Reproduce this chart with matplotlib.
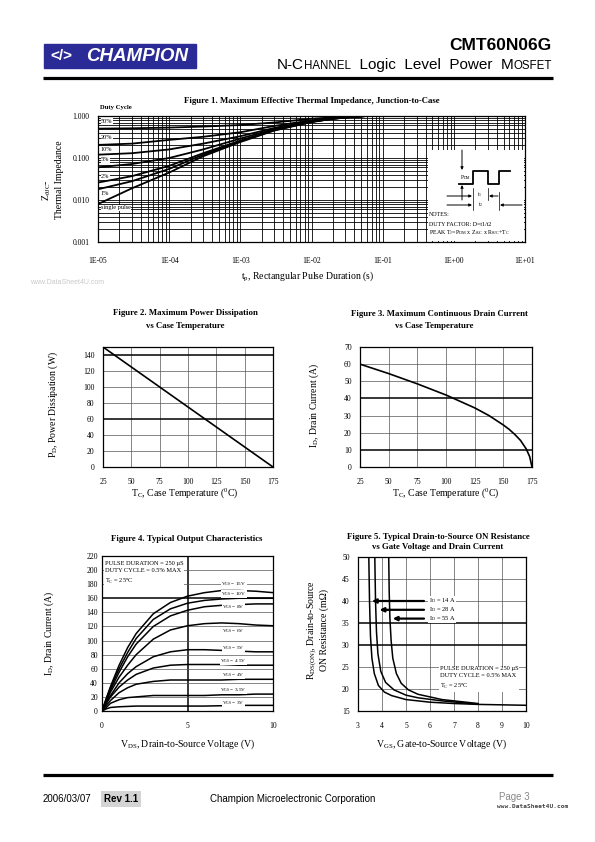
import matplotlib
matplotlib.use("Agg")
import matplotlib.pyplot as plt
from matplotlib.patches import Rectangle
from matplotlib.ticker import LogLocator, NullFormatter

plt.rcParams["font.family"] = "Liberation Serif"
plt.rcParams["mathtext.fontset"] = "custom"
plt.rcParams["mathtext.rm"] = "Liberation Serif"
plt.rcParams["mathtext.it"] = "Liberation Serif:italic"
plt.rcParams["mathtext.bf"] = "Liberation Serif:bold"

# ---------------- data ----------------
# Figure 1 - effective transient thermal impedance (junction-to-case)
tp = [1e-5, 3e-5, 1e-4, 3e-4, 1e-3, 3e-3, 1e-2, 2e-2, 4e-2, 6e-2]
z_50 = [0.50, 0.51, 0.53, 0.56, 0.61, 0.70, 0.86, 0.93, 0.98, 1.0]
z_20 = [0.205, 0.22, 0.27, 0.32, 0.41, 0.58, 0.79, 0.89, 0.97, 1.0]
z_10 = [0.12, 0.13, 0.16, 0.22, 0.33, 0.52, 0.76, 0.88, 0.96, 1.0]
z_5 = [0.060, 0.072, 0.10, 0.16, 0.29, 0.49, 0.74, 0.87, 0.96, 1.0]
z_2 = [0.026, 0.037, 0.065, 0.13, 0.26, 0.47, 0.73, 0.86, 0.96, 1.0]
z_1 = [0.018, 0.028, 0.055, 0.12, 0.25, 0.46, 0.72, 0.86, 0.96, 1.0]
z_single = [0.008, 0.019, 0.045, 0.11, 0.24, 0.45, 0.72, 0.86, 0.96, 1.0]
duty_names = ["50%", "20%", "10%", "5%", "2%", "1%", "single pulse"]
duty_label_z = [0.76, 0.30, 0.163, 0.090, 0.037, 0.0139, 0.0065]

# Figure 2 - max power dissipation vs case temperature
tc_pd = [25, 175]
pd = [150, 0]

# Figure 3 - max continuous drain current vs case temperature
tc_id = [25, 50, 75, 100, 125, 137.5, 150, 155, 160, 165, 170, 173, 175]
id_max = [60, 54.5, 48.5, 42, 34.5, 30, 24.5, 22, 19, 15.5, 10.5, 6, 0]

# Figure 4 - typical output characteristics
vds = [0, 0.25, 0.5, 1, 1.5, 2, 3, 4, 5, 6, 7, 8, 9, 10]
id_15v = [0, 18, 35, 65, 90, 110, 138, 154, 163, 168, 171, 171, 170, 168]
id_10v = [0, 17, 33, 60, 83, 103, 130, 145, 153, 157, 159, 160, 160, 160]
id_8v = [0, 16, 30, 55, 77, 95, 120, 135, 143, 148, 150, 151, 152, 152]
id_6v = [0, 14, 27, 48, 65, 80, 102, 115, 121, 124, 125, 124, 122, 121]
id_5v = [0, 12, 22, 40, 53, 63, 77, 84, 87, 87, 86, 85, 84, 84]
id_45v = [0, 11, 20, 34, 44, 52, 61, 65, 66, 66, 66, 65, 65, 65]
id_4v = [0, 8, 15, 26, 33, 38, 42, 44, 44, 44, 44, 45, 45, 45]
id_35v = [0, 5, 11, 16, 19, 20, 22, 22, 22, 22, 23, 23, 24, 24]
id_3v = [0, 3, 5, 6, 6.5, 7, 7, 7, 7, 7, 7.5, 8, 8, 8]
vgs_names = ["15V", "10V", "8V", "6V", "5V", "4.5V", "4V", "3.5V", "3V"]
vgs_label_id = [180, 166, 148, 113, 89, 71, 51, 30, 11]

# Figure 5 - on resistance vs gate voltage
vgs_14a = [3.45, 3.48, 3.52, 3.58, 3.68, 3.85, 4.1, 4.4, 5, 6, 7, 8, 9, 10]
rds_14a = [50, 40, 32, 27, 23.5, 20.8, 19.3, 18.5, 17.6, 17, 16.7, 16.5, 16.4, 16.3]
vgs_28a = [3.7, 3.73, 3.77, 3.83, 3.95, 4.15, 4.5, 5, 5.5, 6.5, 7.5, 8]
rds_28a = [50, 40, 33, 28, 24, 21.5, 19.8, 18.6, 18, 17.3, 16.8, 16.6]
vgs_55a = [4.28, 4.3, 4.33, 4.38, 4.45, 4.6, 4.8, 5.1, 5.5, 6.5, 7.5, 8]
rds_55a = [50, 42, 36, 31, 27, 23.5, 21.3, 19.8, 18.8, 17.6, 17, 16.7]
id_names = ["14 A", "28 A", "55 A"]
arrow_tip_v = [3.58, 3.9, 4.45]
arrow_r = [40, 38, 36]

# ---------------- page ----------------
W, H = 595, 842
fig = plt.figure(figsize=(W / 100, H / 100), dpi=100)


def px_axes(l, t, r, b):
    return fig.add_axes([l / W, 1 - b / H, (r - l) / W, (b - t) / H])


def ptext(x, y, s, **kw):
    return fig.text(x / W, 1 - y / H, s, **kw)


def grid_lines(ax, xs, ys, strong_x=(), strong_y=()):
    for x in xs:
        ax.axvline(x, color="black" if x in strong_x else "#555555",
                   lw=1.1 if x in strong_x else 0.5, zorder=1)
    for y in ys:
        ax.axhline(y, color="black" if y in strong_y else "#555555",
                   lw=1.1 if y in strong_y else 0.5, zorder=1)


def style_lin(ax, xpad, ypad):
    for s in ax.spines.values():
        s.set_linewidth(0.9)
    ax.tick_params(length=0, labelsize=5.5, pad=0)
    ax.tick_params(axis="x", pad=xpad)
    ax.tick_params(axis="y", pad=ypad)


tfont = dict(fontsize=6.3, fontweight="bold", ha="center", va="center")
lfont = dict(fontsize=7, ha="center", va="center")

# ---- Figure 1 ----
ax1 = px_axes(98, 116, 525, 242)
ax1.set_xscale("log")
ax1.set_yscale("log")
ax1.set_xlim(1e-5, 1e1)
ax1.set_ylim(1e-3, 1)
for curve in [z_50, z_20, z_10, z_5, z_2, z_1, z_single]:
    ax1.plot(tp, curve, color="black", lw=1.3, zorder=3)
ax1.xaxis.set_minor_locator(LogLocator(base=10, subs=range(2, 10), numticks=20))
ax1.yaxis.set_minor_locator(LogLocator(base=10, subs=range(2, 10), numticks=20))
ax1.xaxis.set_minor_formatter(NullFormatter())
ax1.yaxis.set_minor_formatter(NullFormatter())
ax1.set_xticks([1e-5, 1e-4, 1e-3, 1e-2, 1e-1, 1e0, 1e1],
               ["1E-05", "1E-04", "1E-03", "1E-02", "1E-01", "1E+00", "1E+01"])
ax1.set_yticks([1e-3, 1e-2, 1e-1, 1], ["0.001", "0.010", "0.100", "1.000"])
ax1.grid(which="both", color="black", lw=0.6, zorder=1)
ax1.tick_params(which="both", length=0, labelsize=5.5)
ax1.tick_params(axis="x", pad=11)
ax1.tick_params(axis="y", pad=6)
for s in ax1.spines.values():
    s.set_linewidth(0.9)
for name, zl in zip(duty_names, duty_label_z):
    ax1.text(1.1e-5, zl, name, fontsize=4.5, va="center", ha="left", zorder=4,
             bbox=dict(facecolor="white", edgecolor="none", pad=0.3))
ptext(312, 101, "Figure 1. Maximum Effective Thermal Impedance, Junction-to-Case", **tfont)
ptext(100, 108, "Duty Cycle", fontsize=4.8, fontweight="bold", va="center")
ptext(47, 190, r"Z$_{\theta \mathrm{JC}}$-", rotation=90, **lfont)
ptext(59, 180, "Thermal Impedance", rotation=90, **lfont)
ptext(308, 276, r"t$_\mathrm{p}$, Rectangular Pulse Duration (s)", **lfont)

# ---- Figure 2 ----
ax2 = px_axes(103, 347, 273, 467)
ax2.plot(tc_pd, pd, color="black", lw=1.2, zorder=3)
ax2.set_xlim(25, 175)
ax2.set_ylim(0, 150)
ax2.set_xticks(range(25, 176, 25))
ax2.set_yticks(range(0, 141, 20))
grid_lines(ax2, range(50, 175, 25), range(20, 141, 20), strong_y=(140, 60))
style_lin(ax2, 8, 6)
ptext(185, 313, "Figure 2. Maximum Power Dissipation", **tfont)
ptext(185, 326, "vs Case Temperature", **tfont)
ptext(53, 405, r"P$_\mathrm{D}$, Power Dissipation (W)", rotation=90, **lfont)
ptext(185, 493, r"T$_\mathrm{C}$, Case Temperature ($^\mathrm{0}$C)", **lfont)

# ---- Figure 3 ----
ax3 = px_axes(360, 347, 532, 467)
ax3.plot(tc_id, id_max, color="black", lw=1.2, zorder=3)
ax3.set_xlim(25, 175)
ax3.set_ylim(0, 70)
ax3.set_xticks(range(25, 176, 25))
ax3.set_yticks(range(0, 71, 10))
grid_lines(ax3, range(50, 175, 25), range(10, 70, 10), strong_y=(40, 10))
style_lin(ax3, 8, 6)
ptext(439, 314, "Figure 3. Maximum Continuous Drain Current", **tfont)
ptext(434, 326, "vs Case Temperature", **tfont)
ptext(314, 405, r"I$_\mathrm{D}$, Drain Current (A)", rotation=90, **lfont)
ptext(446, 493, r"T$_\mathrm{C}$, Case Temperature ($^\mathrm{0}$C)", **lfont)

# ---- Figure 4 ----
ax4 = px_axes(102, 556, 273, 711)
for curve in [id_15v, id_10v, id_8v, id_6v, id_5v, id_45v, id_4v, id_35v, id_3v]:
    ax4.plot(vds, curve, color="black", lw=1.1, zorder=3)
ax4.set_xlim(0, 10)
ax4.set_ylim(0, 220)
ax4.set_xticks([0, 5, 10])
ax4.set_yticks(range(0, 221, 20))
grid_lines(ax4, [5], range(20, 220, 20), strong_x=(5,), strong_y=(160,))
style_lin(ax4, 8, 3)
for name, il in zip(vgs_names, vgs_label_id):
    ax4.text(7.7, il, r"V$_\mathrm{GS}$ = " + name, fontsize=3.8, ha="center",
             va="center", zorder=4,
             bbox=dict(facecolor="white", edgecolor="none", pad=0.2))
ax4.text(0.15, 213, "PULSE DURATION = 250 µS\nDUTY CYCLE = 0.5% MAX\n"
         r"T$_\mathrm{C}$ = 25$^\mathrm{o}$C", fontsize=4.6, va="top",
         ha="left", linespacing=1.6, zorder=4,
         bbox=dict(facecolor="white", edgecolor="none", pad=0.5))
ptext(187, 539, "Figure 4. Typical Output Characteristics", **tfont)
ptext(49, 633, r"I$_\mathrm{D}$, Drain Current (A)", rotation=90, **lfont)
ptext(188, 744, r"V$_\mathrm{DS}$, Drain-to-Source Voltage (V)", **lfont)

# ---- Figure 5 ----
ax5 = px_axes(358, 557, 526, 711)
for v, r in [(vgs_14a, rds_14a), (vgs_28a, rds_28a), (vgs_55a, rds_55a)]:
    ax5.plot(v, r, color="black", lw=1.1, zorder=3)
ax5.set_xlim(3, 10)
ax5.set_ylim(15, 50)
ax5.set_xticks(range(3, 11))
ax5.set_yticks(range(15, 51, 5))
grid_lines(ax5, range(4, 10), range(20, 50, 5), strong_y=(35, 30))
style_lin(ax5, 8, 6)
for name, tip, rr in zip(id_names, arrow_tip_v, arrow_r):
    ax5.annotate("", xy=(tip, rr), xytext=(5.75, rr), zorder=4,
                 arrowprops=dict(arrowstyle="-|>", color="black", lw=1.6,
                                 mutation_scale=6, shrinkA=0, shrinkB=0))
    ax5.text(5.95, rr, r"I$_\mathrm{D}$ = " + name, fontsize=4.6, va="center",
             ha="left", zorder=4,
             bbox=dict(facecolor="white", edgecolor="none", pad=0.3))
ax5.text(6.4, 25.3, "PULSE DURATION = 250 µS\nDUTY CYCLE = 0.5% MAX\n"
         r"T$_\mathrm{C}$ = 25$^\mathrm{o}$C", fontsize=4.6, va="top",
         ha="left", linespacing=1.6, zorder=4,
         bbox=dict(facecolor="white", edgecolor="none", pad=0.5))
ptext(438, 537, "Figure 5. Typical Drain-to-Source ON Resistance", **tfont)
ptext(438, 547, "vs Gate Voltage and Drain Current", **tfont)
ptext(312, 630, r"R$_\mathrm{DS(ON)}$, Drain-to-Source", rotation=90, **lfont)
ptext(324, 630, "ON Resistance (mΩ)", rotation=90, **lfont)
ptext(442, 744, r"V$_\mathrm{GS}$, Gate-to-Source Voltage (V)", **lfont)

# ---------------- overlay (header, footer, inset diagram) ----------------
ov = fig.add_axes([0, 0, 1, 1], zorder=10)
ov.set_xlim(0, W)
ov.set_ylim(H, 0)
ov.axis("off")
ov.patch.set_alpha(0)

# logo
ov.add_patch(Rectangle((44, 44), 152, 24, facecolor="#2b2b98", edgecolor="#2b2b98"))
ov.text(61, 56.5, "</>", color="white", fontsize=11, fontweight="bold",
        family="Liberation Sans", ha="center", va="center")
ov.text(137, 56.5, "CHAMPION", color="white", fontsize=13.5, fontweight="bold",
        fontstyle="italic", family="Liberation Sans", ha="center", va="center")

# header text
ov.text(552, 45, "CMT60N06G", fontsize=12.5, fontweight="bold",
        family="Liberation Sans", ha="right", va="center")
fig.canvas.draw()
rend = fig.canvas.get_renderer()
pieces = [("N-C", 11), ("HANNEL", 8.3), ("  Logic  Level  Power  M", 11), ("OSFET", 8.3)]
objs = [ov.text(0, 69, s, fontsize=fs, family="Liberation Sans", va="baseline")
        for s, fs in pieces]
widths = [o.get_window_extent(rend).width for o in objs]
xcur = 552 - sum(widths)
for o, w in zip(objs, widths):
    o.set_x(xcur)
    xcur += w

ov.plot([43, 553], [77.5, 77.5], color="black", lw=2.3, solid_capstyle="butt")
ov.plot([43, 553], [775, 775], color="black", lw=2.3, solid_capstyle="butt")

# watermark
ov.text(30, 283, "www.DataSheet4U.com", fontsize=5, color="#c8c8c8",
        family="Liberation Sans", va="center")

# inset: pulse diagram + notes
ov.add_patch(Rectangle((428, 150), 96, 91, facecolor="white", edgecolor="none"))
ov.plot([459, 473, 473, 488, 488, 499, 499, 510],
        [184, 184, 171, 171, 184, 184, 171, 171], color="black", lw=1.3)
arw = dict(arrowstyle="-|>", color="black", lw=0.7, mutation_scale=4,
           shrinkA=0, shrinkB=0)
ov.annotate("", xy=(462, 170), xytext=(462, 150), arrowprops=arw)
ov.annotate("", xy=(462, 185), xytext=(462, 200), arrowprops=arw)
ov.text(466, 178, r"P$_\mathrm{DM}$", fontsize=4, va="center", ha="center")
ov.annotate("", xy=(472, 196), xytext=(447, 196), arrowprops=arw)
ov.annotate("", xy=(489, 196), xytext=(498, 196), arrowprops=arw)
ov.annotate("", xy=(472, 205), xytext=(447, 205), arrowprops=arw)
ov.annotate("", xy=(500, 205), xytext=(522, 205), arrowprops=arw)
ov.plot([473, 473], [188, 210], color="black", lw=0.5)
ov.plot([488, 488], [188, 200], color="black", lw=0.5)
ov.plot([499, 499], [192, 210], color="black", lw=0.5)
ov.text(480, 195, r"t$_\mathrm{1}$", fontsize=4, va="center", ha="center")
ov.text(481, 205, r"t$_\mathrm{2}$", fontsize=4, va="center", ha="center")
ov.text(429, 215, "NOTES:", fontsize=4.3, va="center")
ov.text(429, 224, r"DUTY FACTOR: D=t1/t2", fontsize=4.3, va="center")
ov.text(429, 233, r"PEAK T$_\mathrm{J}$=P$_\mathrm{DM}$ x Z$_{\theta \mathrm{JC}}$ x "
        r"R$_{\theta \mathrm{JC}}$+T$_\mathrm{C}$", fontsize=4.3, va="center")

# footer
ftk = dict(fontsize=7, family="Liberation Sans", va="center")
ov.text(43, 799, "2006/03/07", **ftk)
ov.text(104, 799, "Rev 1.1", fontweight="bold",
        bbox=dict(facecolor="#d4d4d4", edgecolor="none", pad=2.2), **ftk)
ov.text(210, 799, "Champion Microelectronic Corporation", **ftk)
ov.text(499, 797, "Page 3", color="#888888", **ftk)
ov.text(497, 806, "www.DataSheet4U.com", fontsize=4.4, color="#444444",
        family="DejaVu Sans Mono", fontweight="bold", va="center")

fig.savefig("out.png", dpi=100, facecolor="white")
